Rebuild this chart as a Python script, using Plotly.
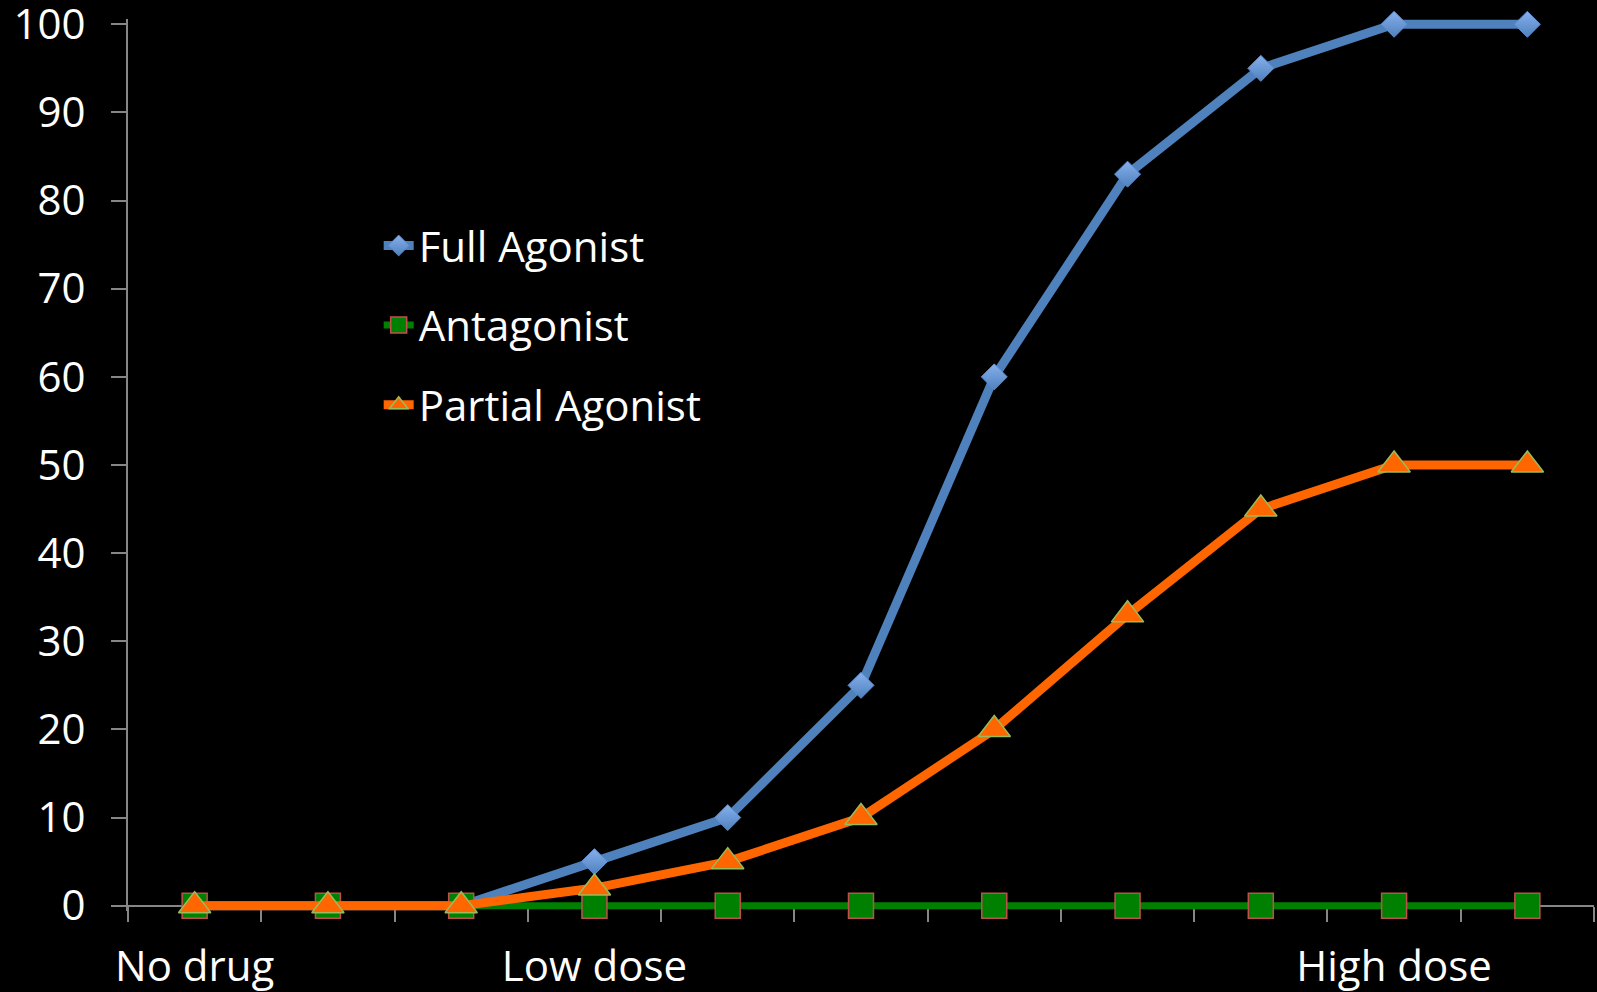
import plotly.graph_objects as go

categories = ["No drug", " ", "  ", "Low dose", "   ", "    ", "     ", "      ", "       ", "High dose", "        "]
full_agonist = [0, 0, 0, 5, 10, 25, 60, 83, 95, 100, 100]
antagonist = [0, 0, 0, 0, 0, 0, 0, 0, 0, 0, 0]
partial_agonist = [0, 0, 0, 2, 5, 10, 20, 33, 45, 50, 50]
y_ticks = [0, 10, 20, 30, 40, 50, 60, 70, 80, 90, 100]

FONT = "Open Sans"
FS = 42
Y_PAD = 0.6  # small range padding so thick lines at 0 and 100 are not clipped
fig = go.Figure()
fig.add_trace(go.Scatter(
    x=categories, y=full_agonist, name="Full Agonist", mode="lines+markers",
    line=dict(color="#4F81BD", width=9),
    marker=dict(symbol="diamond", size=20, color="#86B0EC",
                gradient=dict(type="vertical", color="#4F81BD"),
                line=dict(color="#5B8BD0", width=1)),
    cliponaxis=False, legendgroup="a"))
fig.add_trace(go.Scatter(
    x=categories, y=antagonist, name="Antagonist", mode="lines+markers",
    line=dict(color="#008000", width=7),
    marker=dict(symbol="square", size=25, color="#008000",
                line=dict(color="#C0504D", width=1.5)),
    cliponaxis=False, legendgroup="b"))
fig.add_trace(go.Scatter(
    x=categories, y=partial_agonist, name="Partial Agonist", mode="lines+markers",
    line=dict(color="#FF6600", width=9),
    marker=dict(symbol="triangle-up", size=28, color="#FF6600",
                line=dict(color="#9BBB59", width=1.5)),
    cliponaxis=False, legendgroup="c"))

H, T, B = 992, 19, 81
fig.update_layout(
    width=1597, height=H,
    paper_bgcolor="black", plot_bgcolor="black",
    margin=dict(l=128, r=3, t=T, b=B),
    font=dict(family=FONT, size=FS, color="white"),
    showlegend=True,
    legend=dict(x=0.171, y=0.784, xanchor="left", yanchor="top",
                bgcolor="rgba(0,0,0,0)", font=dict(size=FS, color="white"),
                tracegroupgap=22, itemwidth=30),
)
fig.update_xaxes(
    type="category", categoryorder="array", categoryarray=categories,
    range=[-0.5, len(categories) - 0.5], autorange=False,
    anchor="free", position=(Y_PAD / (100 + 2 * Y_PAD)),
    showline=True, linecolor="#868686", linewidth=2, layer="below traces",
    ticks="outside", tickson="boundaries", ticklen=15, tickcolor="#868686", tickwidth=2,
    showgrid=False, zeroline=False, automargin=False, tickangle=0,
    tickfont=dict(size=FS, color="white", family=FONT),
    ticklabelstandoff=24, ticklabeloverflow="allow",
)
fig.update_yaxes(
    range=[-Y_PAD, 100 + Y_PAD], autorange=False, tickvals=y_ticks,
    showline=True, linecolor="#868686", linewidth=2, layer="below traces",
    ticks="outside", ticklen=15, tickcolor="#868686", tickwidth=2,
    showgrid=False, zeroline=False, automargin=False,
    tickfont=dict(size=FS, color="white", family=FONT),
    ticklabelstandoff=17, ticklabeloverflow="allow",
)
fig.write_html("out.html", config={"displayModeBar": False},
               post_script="document.body.style.margin='0';document.body.style.background='black';")
